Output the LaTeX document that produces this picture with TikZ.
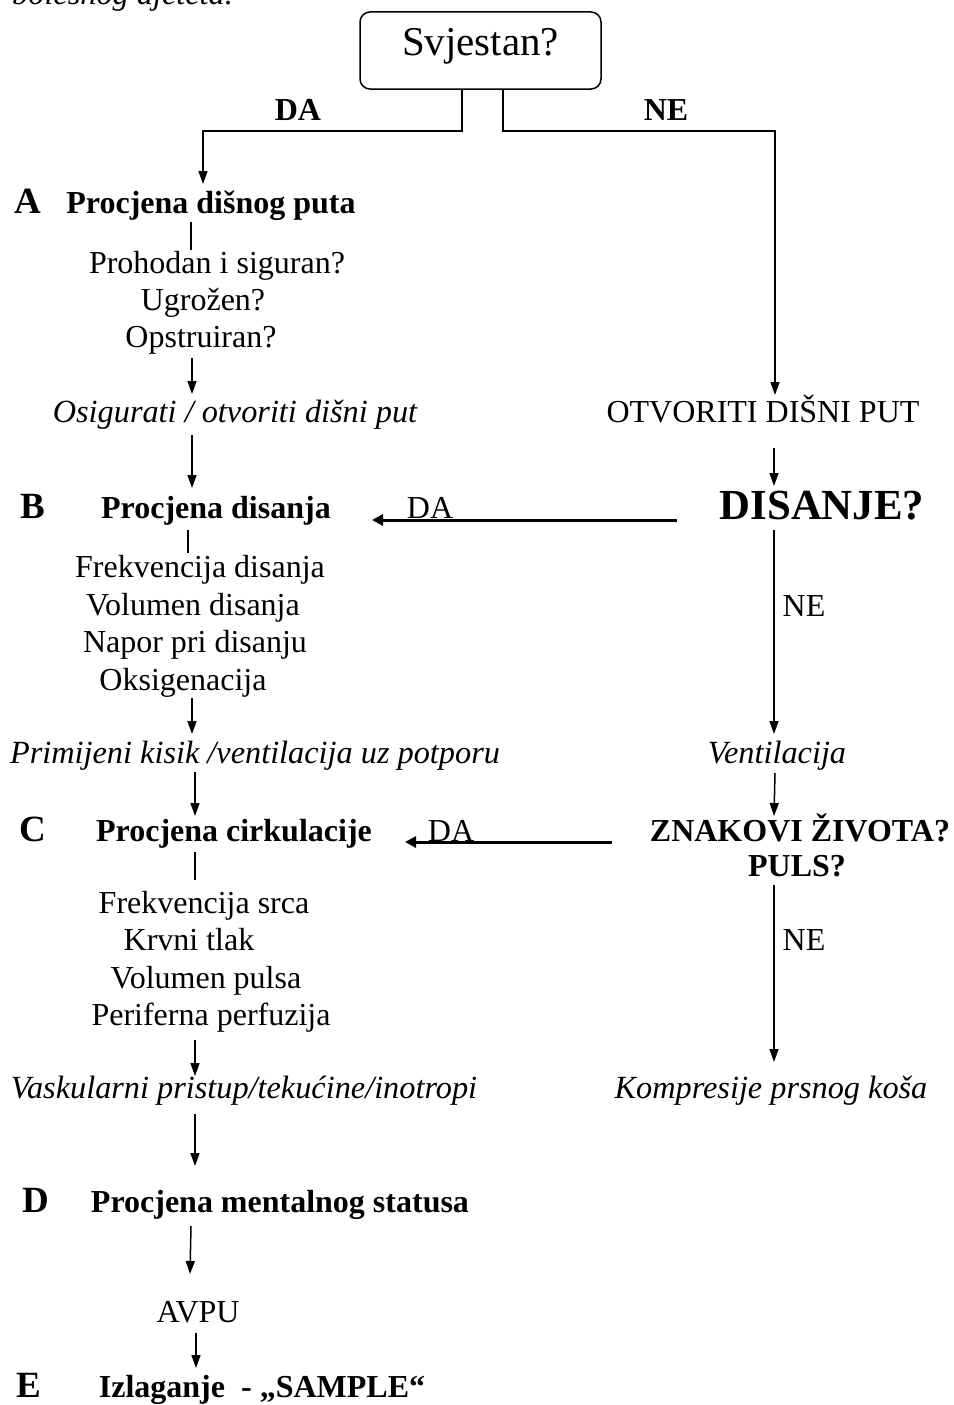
\documentclass[tikz,border=0pt]{standalone}
\usepackage{fontspec}
\usepackage{graphicx}
\setmainfont{Liberation Serif}
\usetikzlibrary{arrows.meta}
\newcommand\fsN{\fontsize{32}{38}\selectfont}
\newcommand\fsI{\fontsize{32.3}{38}\selectfont}
\newcommand\fsL{\fontsize{37}{43}\selectfont}
\tikzset{
  txt/.style={anchor=base, inner sep=0pt, font=\fsN},
  btxt/.style={txt, font=\fsN\bfseries},
  itxt/.style={txt, font=\fsI\itshape},
  letter/.style={txt, font=\fsL\bfseries},
  conn/.style={line width=1.5pt},
  arr/.style={conn, -{Triangle[length=13pt,width=9pt]}},
  thickarr/.style={line width=3pt, -{Triangle[length=11pt,width=11pt]}},
  qbox/.style={draw, line width=1.5pt, rounded corners=10pt, minimum width=241pt, minimum height=77pt,
     inner sep=0pt, text height=27pt, text depth=16pt, font=\fsN},
}
\begin{document}
\begin{tikzpicture}[x=1pt,y=-1pt]
\useasboundingbox (0,0) rectangle (953,1405);
\fill[white] (0,0) rectangle (953,1405);

% clipped caption fragment at top
\node[itxt, anchor=base west] (cap) at (12,5) {bolesnog djeteta.};

% top question
\node[qbox] (q) at (480.5,50.5) {\scalebox{1.28}{Svjestan?}};
\node[btxt] (da0) at (298,120) {DA};
\node[btxt] (ne0) at (666,120) {NE};

% A
\node[letter] (A) at (28,213) {A};
\node[btxt] (pA) at (211,213) {Procjena dišnog puta};
\node[txt] (a1) at (217,273) {Prohodan i siguran?};
\node[txt] (a2) at (203,310) {Ugrožen?};
\node[txt] (a3) at (201,347) {Opstruiran?};
\node[itxt] (a4) at (235,422) {Osigurati / otvoriti dišni put};
\node[txt] (otv) at (763,422) {OTVORITI DIŠNI PUT};

% B
\node[letter] (B) at (33,518) {B};
\node[btxt] (pB) at (216,518) {Procjena disanja};
\node[txt] (daB) at (430,518) {DA};
\node[btxt] (dis) at (822,519) {\scalebox{1.34}{DISANJE?}};
\node[txt] (neB) at (804,616) {NE};
\node[txt] (b1) at (200,577) {Frekvencija disanja};
\node[txt] (b2) at (193,615) {Volumen disanja};
\node[txt] (b3) at (195,652) {Napor pri disanju};
\node[txt] (b4) at (183,690) {Oksigenacija};
\node[itxt] (b5) at (255,763) {Primijeni kisik /ventilacija uz potporu};
\node[itxt] (vent) at (777,763) {Ventilacija};

% C
\node[letter] (C) at (33,841) {C};
\node[btxt] (pC) at (234,841) {Procjena cirkulacije};
\node[txt] (daC) at (451,841) {DA};
\node[btxt] (zn) at (800,841) {ZNAKOVI ŽIVOTA?};
\node[btxt] (puls) at (797,876) {PULS?};
\node[txt] (neC) at (804,950) {NE};
\node[txt] (c1) at (204,913) {Frekvencija srca};
\node[txt] (c2) at (189,950) {Krvni tlak};
\node[txt] (c3) at (206,988) {Volumen pulsa};
\node[txt] (c4) at (211,1025) {Periferna perfuzija};
\node[itxt] (c5) at (244,1098) {Vaskularni pristup/tekućine/inotropi};
\node[itxt] (komp) at (771,1098) {Kompresije prsnog koša};

% D, E
\node[letter] (D) at (36,1212) {D};
\node[btxt] (pD) at (280,1212) {Procjena mentalnog statusa};
\node[txt] (avpu) at (198,1322) {AVPU};
\node[letter] (E) at (29,1397) {E};
\node[btxt] (pE) at (262,1397) {Izlaganje\ \ - „SAMPLE“};

% coordinates for connectors
\coordinate (qL) at (462,131);
\coordinate (qR) at (503,131);
\coordinate (tA) at (203,184);
\coordinate (tOtv) at (775,395);
\coordinate (sA1) at (191,222);
\coordinate (eA1) at (191,250);
\coordinate (sA2) at (192,358);
\coordinate (tA2) at (192,394);
\coordinate (sA3) at (192,435);
\coordinate (tB) at (192,488);
\coordinate (sO) at (774,448);
\coordinate (tDis) at (774,486);
\coordinate (sDA1) at (677,520);
\coordinate (tDA1) at (372,520);
\coordinate (sB1) at (188,530);
\coordinate (eB1) at (188,553);
\coordinate (sB2) at (192,698);
\coordinate (tB2) at (192,734);
\coordinate (sDis) at (774,530);
\coordinate (tVent) at (774,734);
\coordinate (sB3) at (195,772);
\coordinate (tC) at (195,816);
\coordinate (sV) at (775,773);
\coordinate (tZn) at (774,816);
\coordinate (sDA2) at (612,842);
\coordinate (tDA2) at (405,842);
\coordinate (sC1) at (195,852);
\coordinate (eC1) at (195,880);
\coordinate (sPuls) at (774,885);
\coordinate (tKomp) at (774,1062);
\coordinate (sC2) at (195,1040);
\coordinate (tC2) at (195,1076);
\coordinate (sC3) at (195,1114);
\coordinate (tD) at (195,1166);
\coordinate (sD) at (191,1226);
\coordinate (tAvpu) at (190,1274);
\coordinate (sAv) at (196,1333);
\coordinate (tE) at (196,1368);

% connectors
\draw[arr] (q.south -| qL) -- (qL) -| (tA);
\draw[arr] (q.south -| qR) -- (qR) -| (tOtv);
\draw[conn] (sA1) -- (eA1);
\draw[arr] (sA2) -- (tA2);
\draw[arr] (sA3) -- (tB);
\draw[arr] (sO) -- (tDis);
\draw[thickarr] (sDA1) -- (tDA1);
\draw[conn] (sB1) -- (eB1);
\draw[arr] (sB2) -- (tB2);
\draw[arr] (sDis) -- (tVent);
\draw[arr] (sB3) -- (tC);
\draw[arr] (sV) -- (tZn);
\draw[thickarr] (sDA2) -- (tDA2);
\draw[conn] (sC1) -- (eC1);
\draw[arr] (sPuls) -- (tKomp);
\draw[arr] (sC2) -- (tC2);
\draw[arr] (sC3) -- (tD);
\draw[arr] (sD) -- (tAvpu);
\draw[arr] (sAv) -- (tE);
\end{tikzpicture}
\end{document}
